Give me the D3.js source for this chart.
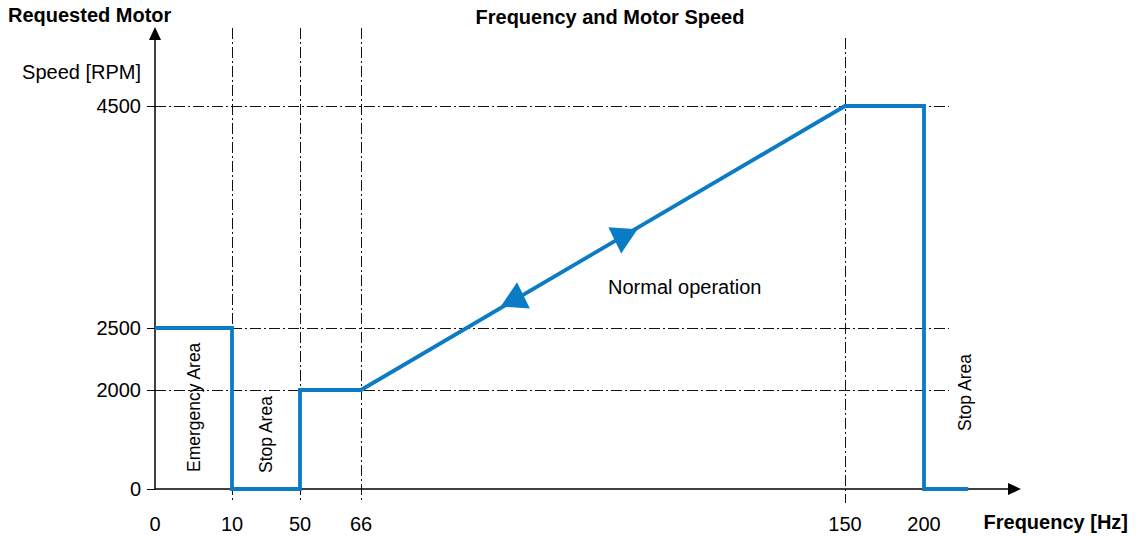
<!DOCTYPE html>
<html>
<head>
<meta charset="utf-8">
<script src="https://cdn.jsdelivr.net/npm/d3@7"></script>
<style>
  body { margin: 0; background: #fff; }
  text { font-family: "Liberation Sans", Arial, sans-serif; fill: #000; }
</style>
</head>
<body>
<div id="chart"></div>
<script>
// data
var freqTicks = [0, 10, 50, 66, 150, 200];
var speedTicks = [0, 2000, 2500, 4500];
var freqGrid = [10, 50, 66, 150];
var speedGrid = [2000, 2500, 4500];
var curveFreq = [0, 10, 10, 50, 50, 66, 150, 200, 200, 228];
var curveSpeed = [2500, 2500, 0, 0, 2000, 2000, 4500, 4500, 0, 0];
var arrowPos = [0.54, 0.32];      // fraction along the 66->150 ramp
var arrowDir = ["down", "up"];
var areaLabels = ["Emergency Area", "Stop Area", "Stop Area"];
var areaFreq = [5, 30, 226];
var areaSpeed = [1650, 1100, 1950];

var width = 1147;
var height = 536;
var blue = "#0a7bc4";

// the axis is not evenly spaced, so use a piecewise scale
var x = d3.scaleLinear()
          .domain(freqTicks)
          .range([155, 232, 300, 361, 845, 924]);
var y = d3.scaleLinear()
          .domain(speedTicks)
          .range([489, 390, 328, 106]);

var svg = d3.select("#chart")
            .append("svg")
            .attr("width", width)
            .attr("height", height);

var dashDot = "11,3,2,3";

// grid lines
svg.selectAll("line.vgrid")
   .data(freqGrid)
   .enter()
   .append("line")
   .attr("class", "vgrid")
   .attr("x1", function(d){ return x(d) + 0.5; })
   .attr("x2", function(d){ return x(d) + 0.5; })
   .attr("y1", function(d){ return d == 150 ? 38 : 28; })
   .attr("y2", 503)
   .attr("stroke", "#111")
   .attr("stroke-width", 1)
   .attr("stroke-dasharray", dashDot);

svg.selectAll("line.hgrid")
   .data(speedGrid)
   .enter()
   .append("line")
   .attr("class", "hgrid")
   .attr("x1", x(0))
   .attr("x2", 949)
   .attr("y1", function(d){ return y(d) + 0.5; })
   .attr("y2", function(d){ return y(d) + 0.5; })
   .attr("stroke", "#111")
   .attr("stroke-width", 1)
   .attr("stroke-dasharray", dashDot);

// axes lines + arrow heads
svg.append("line")
   .attr("x1", x(0)).attr("x2", x(0))
   .attr("y1", y(0)).attr("y2", 38)
   .attr("stroke", "#000").attr("stroke-width", 1.5);
svg.append("path")
   .attr("d", "M" + x(0) + ",27 l-6,13 l12,0 z")
   .attr("fill", "#000");

svg.append("line")
   .attr("x1", x(0)).attr("x2", 1010)
   .attr("y1", y(0)).attr("y2", y(0))
   .attr("stroke", "#000").attr("stroke-width", 1.5);
svg.append("path")
   .attr("d", "M1021," + y(0) + " l-13,-6 l0,12 z")
   .attr("fill", "#000");

// y ticks
svg.selectAll("line.ytick")
   .data(speedTicks)
   .enter()
   .append("line")
   .attr("class", "ytick")
   .attr("x1", x(0) - 8).attr("x2", x(0))
   .attr("y1", function(d){ return y(d) + 0.5; })
   .attr("y2", function(d){ return y(d) + 0.5; })
   .attr("stroke", "#000");

svg.selectAll("text.ylab")
   .data(speedTicks)
   .enter()
   .append("text")
   .attr("class", "ylab")
   .attr("x", x(0) - 14)
   .attr("y", function(d){ return y(d); })
   .attr("dy", "0.35em")
   .attr("text-anchor", "end")
   .style("font-size", "20px")
   .text(function(d){ return d; });

svg.selectAll("text.xlab")
   .data(freqTicks)
   .enter()
   .append("text")
   .attr("class", "xlab")
   .attr("x", function(d){ return x(d); })
   .attr("y", 531)
   .attr("text-anchor", "middle")
   .style("font-size", "20px")
   .text(function(d){ return d; });

// the curve
var pts = curveFreq.map(function(f, i){ return [f, curveSpeed[i]]; });
var line = d3.line()
             .x(function(d){ return x(d[0]); })
             .y(function(d){ return y(d[1]); });

svg.append("path")
   .datum(pts)
   .attr("d", line)
   .attr("fill", "none")
   .attr("stroke", blue)
   .attr("stroke-width", 3.8)
   .attr("stroke-linejoin", "miter");

// direction triangles on the ramp
var x0 = x(66), y0 = y(2000), x1 = x(150), y1 = y(4500);
svg.selectAll("path.arrow")
   .data(arrowPos)
   .enter()
   .append("path")
   .attr("class", "arrow")
   .attr("d", d3.symbol().type(d3.symbolTriangle).size(370))
   .attr("transform", function(d, i){
       var px = x0 + (x1 - x0) * d;
       var py = y0 + (y1 - y0) * d;
       var rot = arrowDir[i] == "down" ? 184 : 4;
       return "translate(" + px + "," + py + ") rotate(" + rot + ")";
   })
   .attr("fill", blue);

// area labels (vertical)
svg.selectAll("text.area")
   .data(areaLabels)
   .enter()
   .append("text")
   .attr("class", "area")
   .attr("transform", function(d, i){
       return "translate(" + x(areaFreq[i]) + "," + y(areaSpeed[i]) + ") rotate(-90)";
   })
   .attr("text-anchor", "middle")
   .attr("dy", "0.35em")
   .style("font-size", "17.5px")
   .text(function(d){ return d; });

svg.append("text")
   .attr("x", 608).attr("y", 294)
   .style("font-size", "20px")
   .text("Normal operation");

// titles
svg.append("text")
   .attr("x", 8).attr("y", 22)
   .style("font-size", "20px").style("font-weight", "bold")
   .text("Requested Motor");

svg.append("text")
   .attr("x", 141).attr("y", 79)
   .attr("text-anchor", "end")
   .style("font-size", "20px")
   .text("Speed [RPM]");

svg.append("text")
   .attr("x", 610).attr("y", 24)
   .attr("text-anchor", "middle")
   .style("font-size", "20px").style("font-weight", "bold")
   .text("Frequency and Motor Speed");

svg.append("text")
   .attr("x", 1128).attr("y", 529)
   .attr("text-anchor", "end")
   .style("font-size", "20px").style("font-weight", "bold")
   .text("Frequency [Hz]");
</script>
</body>
</html>
